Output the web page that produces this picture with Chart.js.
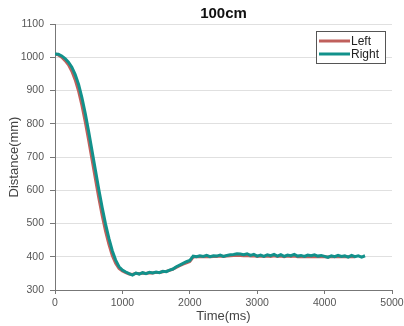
<!DOCTYPE html>
<html>
<head>
<meta charset="utf-8">
<script src="https://cdn.jsdelivr.net/npm/chart.js@4/dist/chart.umd.min.js"></script>
<style>
  html, body { margin: 0; padding: 0; background: #fff; }
  #wrap { width: 404px; height: 326px; }
</style>
</head>
<body>
<div id="wrap"><canvas id="myChart" width="404" height="326"></canvas></div>
<script>
const timeMs = [];
for (let t = 0; t <= 4600; t += 50) timeMs.push(t);

const rightMm = [
  1010, 1009, 1004, 996, 985, 970, 948, 918, 878, 830,
  776, 718, 660, 602, 548, 498, 455, 418, 390, 370,
  360, 354, 349, 345, 351, 348, 352, 349, 353, 351,
  354, 352, 356, 355, 360, 363, 370, 375, 380, 385,
  389, 402, 400, 403, 401, 404, 400, 403, 402, 405,
  401, 404, 406, 407, 409, 408, 406, 409, 404, 407,
  402, 405, 401, 406, 403, 407, 402, 406, 401, 405,
  403, 407, 402, 404, 401, 405, 403, 406, 402, 404,
  401, 398, 403, 400, 404, 401, 403, 399, 404, 400,
  403, 399, 403
];

const leftMm = [
  1010, 1007, 1000, 990, 977, 958, 932, 898, 855, 805,
  750, 692, 634, 577, 524, 477, 437, 404, 380, 365,
  357, 352, 348, 347, 350, 349, 351, 350, 352, 351,
  353, 353, 355, 356, 359, 363, 368, 373, 378, 382,
  386, 399, 400, 401, 400, 401, 400, 401, 401, 402,
  401, 402, 403, 404, 404, 404, 403, 404, 402, 403,
  401, 402, 401, 402, 401, 403, 401, 402, 400, 402,
  401, 402, 400, 401, 400, 401, 400, 401, 400, 401,
  400, 399, 401, 400, 401, 400, 401, 400, 401, 400
];

const yTicks = [300, 400, 500, 600, 700, 800, 900, 1000, 1100];
const xTicks = [0, 1000, 2000, 3000, 4000, 5000];

const leftColor = "#C0605C";
const rightColor = "#12918B";
const fontFam = "'Liberation Sans', Arial, sans-serif";

function toPoints(ys) {
  return ys.map((y, i) => ({ x: timeMs[i], y: y }));
}

// legend drawn as a bordered box inside the plot, top right
const boxLegend = {
  id: "boxLegend",
  afterDraw(chart) {
    const ctx = chart.ctx;
    const x0 = 316, y0 = 31, w = 69, h = 32;
    ctx.save();
    ctx.fillStyle = "#fff";
    ctx.fillRect(x0, y0, w, h);
    ctx.strokeStyle = "#555";
    ctx.lineWidth = 1;
    ctx.strokeRect(x0 + 0.5, y0 + 0.5, w, h);
    const items = [["Left", leftColor], ["Right", rightColor]];
    ctx.font = "12px " + fontFam;
    ctx.textBaseline = "middle";
    items.forEach((it, i) => {
      const cy = y0 + 10 + i * 13;
      ctx.strokeStyle = it[1];
      ctx.lineWidth = 3;
      ctx.beginPath();
      ctx.moveTo(x0 + 3, cy);
      ctx.lineTo(x0 + 34, cy);
      ctx.stroke();
      ctx.fillStyle = "#222";
      ctx.fillText(it[0], x0 + 35, cy + 1);
    });
    ctx.restore();
  }
};

const config = {
  type: "scatter",
  data: {
    datasets: [
      {
        label: "Right",
        data: toPoints(rightMm),
        showLine: true,
        borderColor: rightColor,
        backgroundColor: rightColor,
        borderWidth: 3,
        pointRadius: 0,
        tension: 0,
      },
      {
        label: "Left",
        data: toPoints(leftMm),
        showLine: true,
        borderColor: leftColor,
        backgroundColor: leftColor,
        borderWidth: 3,
        pointRadius: 0,
        tension: 0,
      },
    ],
  },
  options: {
    responsive: false,
    animation: false,
    layout: { padding: { left: 0, right: 12, top: 0, bottom: 0 } },
    plugins: {
      legend: { display: false },
      tooltip: { enabled: false },
      title: {
        display: true,
        fullSize: false,
        text: "100cm",
        color: "#111",
        font: { family: fontFam, size: 15, weight: "bold" },
        padding: { top: 5, bottom: 1 },
      },
    },
    scales: {
      x: {
        type: "linear",
        min: 0,
        max: 5000,
        afterBuildTicks: (s) => { s.ticks = xTicks.map((v) => ({ value: v })); },
        afterFit: (s) => { s.height = 36; s.paddingRight = 0; s.paddingLeft = 0; },
        grid: { drawOnChartArea: false, tickLength: 4, tickColor: "#777" },
        border: { color: "#777", width: 1 },
        ticks: {
          color: "#555",
          padding: 3,
          maxRotation: 0,
          callback: (v) => String(v),
          font: { family: fontFam, size: 10.5 },
        },
        title: {
          display: true,
          text: "Time(ms)",
          color: "#444",
          padding: { top: 1.5, bottom: 1.5 },
          font: { family: fontFam, size: 13 },
        },
      },
      y: {
        min: 300,
        max: 1100,
        afterBuildTicks: (s) => { s.ticks = yTicks.map((v) => ({ value: v })); },
        afterFit: (s) => { s.width = 55; },
        grid: { color: "#e0e0e0", tickLength: 5, tickColor: "#777" },
        border: { color: "#777", width: 1 },
        ticks: {
          color: "#555",
          padding: 6,
          callback: (v) => String(v),
          font: { family: fontFam, size: 10.5 },
        },
        title: {
          display: true,
          text: "Distance(mm)",
          color: "#444",
          padding: { top: 7, bottom: 0 },
          font: { family: fontFam, size: 13 },
        },
      },
    },
  },
  plugins: [boxLegend],
};

const myChart = new Chart(document.getElementById("myChart"), config);
</script>
</body>
</html>
